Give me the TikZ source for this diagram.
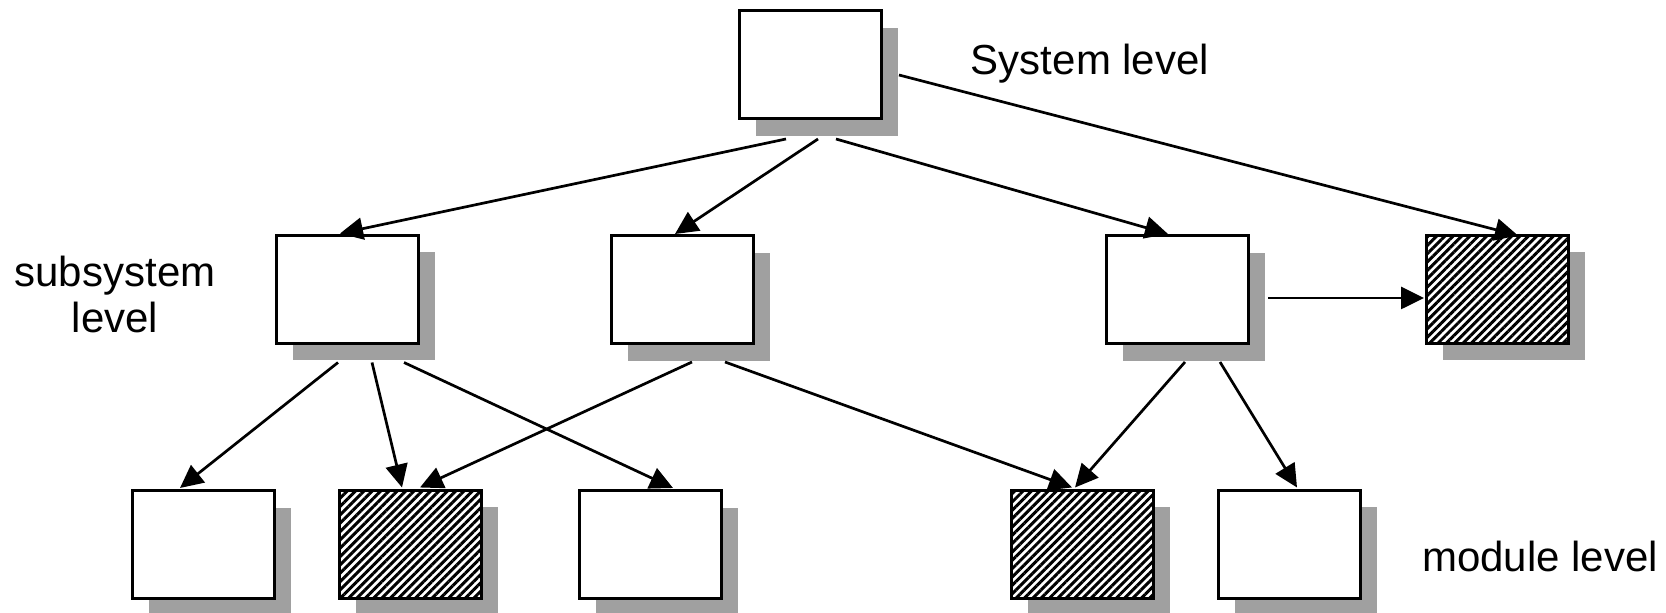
\documentclass[tikz,border=0pt]{standalone}
\usepackage{fontspec}
\setmainfont{Liberation Sans}
\usetikzlibrary{arrows.meta,shadows,patterns.meta}
\definecolor{shadowgray}{HTML}{A0A0A0}
\tikzset{
  box/.style={draw=black, line width=1.5pt, fill=white, inner sep=0pt, outer sep=0pt,
    minimum width=71pt, minimum height=54pt,
    general shadow={fill=shadowgray, shadow xshift=8.3pt, shadow yshift=-8.3pt}},
  hatched/.style={box, postaction={pattern={Lines[angle=45,distance=2.95pt,line width=1.5pt]}},
    postaction={draw=black, line width=1.5pt}},
  arr/.style={line width=1.35pt, -{Triangle[length=11.5pt,width=11pt]}},
  lbl/.style={font=\fontsize{21}{23}\selectfont, align=center, inner sep=0pt}
}
\begin{document}
\begin{tikzpicture}[x=0.5pt,y=-0.5pt]
\useasboundingbox (0,0) rectangle (1666,613);
% nodes
\node[box] (top) at (810,65) {};
\node[box] (sub1) at (347,289.5) {};
\node[box] (sub2) at (682,290) {};
\node[box] (sub3) at (1177,290) {};
\node[hatched] (hat1) at (1497,289.5) {};
\node[box] (bot1) at (203,545) {};
\node[hatched] (bot2) at (410.5,544.5) {};
\node[box] (bot3) at (650,545) {};
\node[hatched] (bot4) at (1082,544.5) {};
\node[box] (bot5) at (1289.5,544.5) {};
% labels
\node[lbl] (lsys) at (1090,64) {System level};
\node[lbl] (lsub) at (115,294) {subsystem\\level};
\node[lbl] (lmod) at (1540,556) {module level};
% connectors
\draw[arr] ([shift={(-24,20)}]top.south) -- ([shift={(-7,-2)}]sub1.north);
\draw[arr] ([shift={(8,20)}]top.south) -- ([shift={(-7,-2)}]sub2.north);
\draw[arr] ([shift={(26,20)}]top.south) -- ([shift={(-9,-2)}]sub3.north);
\draw[arr] ([shift={(18,10)}]top.east) -- ([shift={(21,0)}]hat1.north);
\draw[arr] ([shift={(20,8)}]sub3.east) -- ([shift={(-2,8.5)}]hat1.west);
\draw[arr] ([shift={(-9,19)}]sub1.south) -- ([shift={(-23,-3)}]bot1.north);
\draw[arr] ([shift={(25,19)}]sub1.south) -- ([shift={(-8.5,-3)}]bot2.north);
\draw[arr] ([shift={(57,19)}]sub1.south) -- ([shift={(23,-3)}]bot3.north);
\draw[arr] ([shift={(10,18)}]sub2.south) -- ([shift={(9.5,-3)}]bot2.north);
\draw[arr] ([shift={(43,18)}]sub2.south) -- ([shift={(-10,-3)}]bot4.north);
\draw[arr] ([shift={(8,18)}]sub3.south) -- ([shift={(-7,-3)}]bot4.north);
\draw[arr] ([shift={(43,18)}]sub3.south) -- ([shift={(7.5,-3)}]bot5.north);
\end{tikzpicture}
\end{document}
